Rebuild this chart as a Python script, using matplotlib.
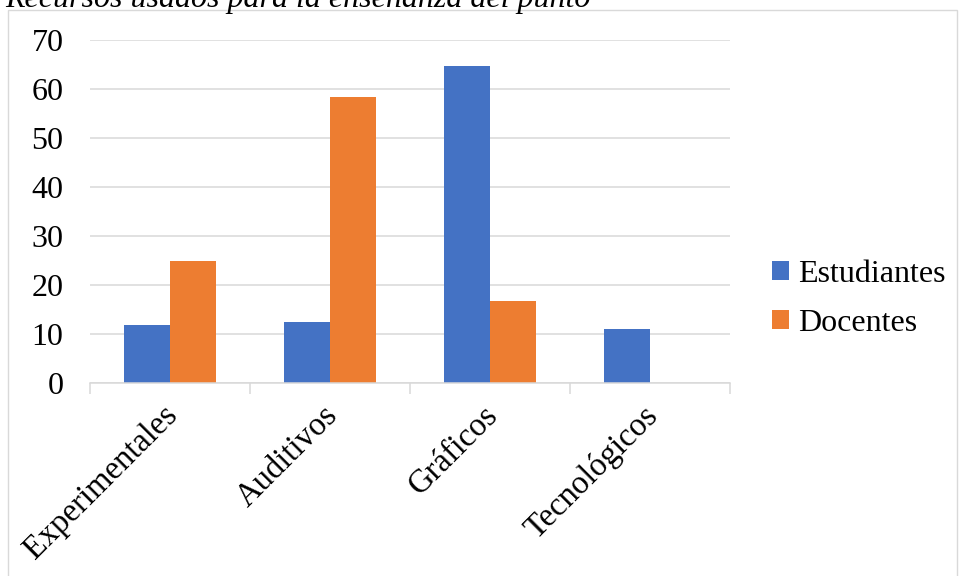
import matplotlib
matplotlib.use("Agg")
import matplotlib.pyplot as plt
import matplotlib.transforms as mtransforms
from matplotlib.patches import Rectangle
import numpy as np

plt.rcParams['font.family'] = ['Liberation Serif', 'DejaVu Serif']

categories = ["Experimentales", "Auditivos", "Gráficos", "Tecnológicos"]
estudiantes = [11.9, 12.4, 64.6, 11.1]
docentes = [25.0, 58.3, 16.7, 0.0]
series_names = ["Estudiantes", "Docentes"]
colors = ["#4472C4", "#ED7D31"]
yticks = [0, 10, 20, 30, 40, 50, 60, 70]

W, H = 960, 576
fig = plt.figure(figsize=(W / 100, H / 100), dpi=100)

# chart frame
fig.patches.append(Rectangle((8 / W, -0.01), 949 / W, 1 - 10 / H + 0.01,
                             transform=fig.transFigure, fill=False,
                             edgecolor="#d9d9d9", linewidth=1.0))

# caption at the top edge
fig.text(5 / W, 1 - 7 / H, "Recursos usados para la enseñanza del punto",
         fontsize=23, fontstyle="italic", va="baseline", ha="left")

ax = fig.add_axes([90 / W, 1 - 383 / H, 640 / W, 343 / H])

x = np.arange(len(categories)) + 0.5
bw = 0.2875
ax.bar(x - bw / 2, estudiantes, bw, color=colors[0], label=series_names[0], zorder=3)
ax.bar(x + bw / 2, docentes, bw, color=colors[1], label=series_names[1], zorder=3)

ax.set_xlim(0, len(categories))
ax.set_ylim(0, 70)
ax.set_yticks(yticks)
ax.set_yticklabels([str(v) for v in yticks], fontsize=23)
ax.tick_params(axis="y", length=0, pad=19)
ax.grid(axis="y", color="#d9d9d9", linewidth=1.1, zorder=0)

for s in ["top", "right", "left"]:
    ax.spines[s].set_visible(False)
ax.spines["bottom"].set_color("#d9d9d9")
ax.spines["bottom"].set_linewidth(1.1)
ax.spines["bottom"].set_zorder(4)

# category boundary ticks
ax.set_xticks(np.arange(len(categories) + 1), minor=True)
ax.tick_params(axis="x", which="minor", length=8, color="#d9d9d9", width=1.1)
ax.set_xticks(x)
ax.set_xticklabels(categories, fontsize=23.5, rotation=45, ha="right",
                   va="center", rotation_mode="anchor")
ax.tick_params(axis="x", which="major", length=0, pad=20)
offset = mtransforms.ScaledTranslation(3 / 100, 0, fig.dpi_scale_trans)
for lbl in ax.get_xticklabels():
    lbl.set_transform(lbl.get_transform() + offset)

leg = ax.legend(loc="center left", bbox_to_anchor=(772 / W, 1 - 299 / H),
                bbox_transform=fig.transFigure, frameon=False, fontsize=23,
                handlelength=0.52, handleheight=0.52, handletextpad=0.3,
                labelspacing=0.62, borderpad=0, borderaxespad=0)

fig.savefig("out.png", dpi=100)
